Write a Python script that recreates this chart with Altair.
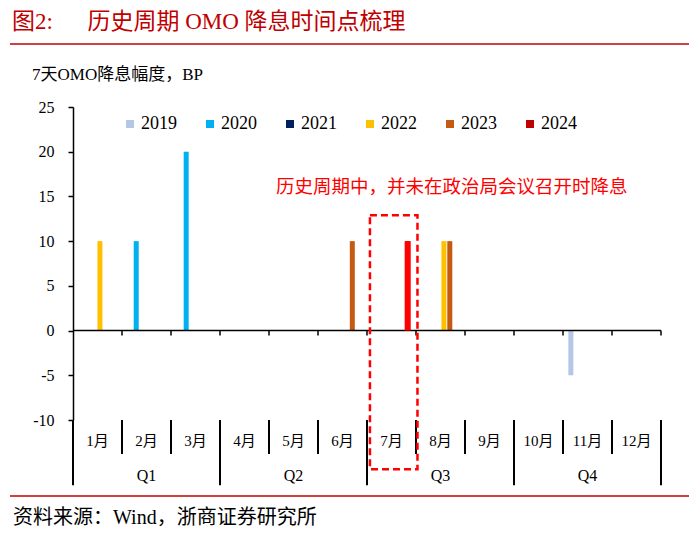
import altair as alt
import pandas as pd

# ---------------- data ----------------
years = ["2019", "2020", "2021", "2022", "2023", "2024"]
year_colors = ["#B4C7E7", "#00B0F0", "#002060", "#FFC000", "#C55A11", "#C00000"]

cut_year = ["2022", "2020", "2020", "2023", "2024", "2022", "2023", "2019"]
cut_pos = [0.55, 1.29, 2.31, 5.70, 6.83, 7.57, 7.69, 10.16]   # position in months (0..12)
cut_bp = [10, 10, 20, 10, 10, 10, 10, -5]

months = [f"{i}月" for i in range(1, 13)]
quarters = ["Q1", "Q2", "Q3", "Q4"]
y_ticks = [-10, -5, 0, 5, 10, 15, 20, 25]

title_text = "图2:\u3000\u00a0\u00a0历史周期 OMO 降息时间点梳理"
y_title = "7天OMO降息幅度，BP"
note_text = "历史周期中，并未在政治局会议召开时降息"
source_text = "资料来源：Wind，浙商证券研究所"

SERIF = "'Liberation Serif', 'Noto Sans CJK SC'"
CJK = "'Noto Sans CJK SC'"
RED = "#C00000"

# ---------------- tables ----------------
bars_df = pd.DataFrame({"year": cut_year, "pos": cut_pos, "bp": cut_bp})
month_df = pd.DataFrame({"label": months, "mid": [i + 0.5 for i in range(12)], "y": -12.4})
quarter_df = pd.DataFrame({"label": quarters, "mid": [1.5, 4.5, 7.5, 10.5], "y": -16.3})
msep_df = pd.DataFrame({"x": [1, 2, 4, 5, 7, 8, 10, 11], "y": -10, "y2": -13.8})
qsep_df = pd.DataFrame({"x": [0, 3, 6, 9, 12], "y": -10, "y2": -17.3})
zero_df = pd.DataFrame({"x": [0], "x2": [12], "y": [0]})
ztick_df = pd.DataFrame({"x": list(range(1, 13)), "y": 0, "y2": -0.56})
box_df = pd.DataFrame({"x": [6.06], "x2": [7.03], "y": [12.9], "y2": [-15.5]})
note_df = pd.DataFrame({"x": [7.73], "y": [16.1], "t": [note_text]})
one = pd.DataFrame({"a": [0]})

xs = alt.Scale(domain=[0, 12], nice=False, zero=False, padding=0)
ys = alt.Scale(domain=[-10, 25], nice=False, padding=0)
yaxis = alt.Axis(
    values=y_ticks, title=None, grid=False, labelExpr="datum.value + ''",
    domainColor="black", domainWidth=1.5,
    tickColor="black", tickSize=5, tickWidth=1.5,
    labelFont=SERIF, labelFontSize=16, labelColor="black", labelPadding=14)


def X(f):
    return alt.X(f, scale=xs, axis=None)


def Y(f):
    return alt.Y(f, scale=ys, axis=yaxis)


bars = alt.Chart(bars_df).mark_bar(size=5).encode(
    x=X("pos:Q"),
    y=Y("bp:Q"),
    color=alt.Color("year:N", scale=alt.Scale(domain=years, range=year_colors),
                    legend=alt.Legend(
                        title=None, orient="none", legendX=48, legendY=8,
                        direction="horizontal", symbolType="square", symbolSize=64,
                        symbolStrokeWidth=0, labelFont=SERIF, labelFontSize=18,
                        labelColor="black", labelOffset=2, columnPadding=24)),
)

hi = alt.Chart(bars_df).transform_filter(alt.datum.year == "2024").mark_bar(
    size=6, color="#FF0000").encode(x=X("pos:Q"), y=Y("bp:Q"))

zero_line = alt.Chart(zero_df).mark_rule(color="black", strokeWidth=1.5).encode(
    x=X("x:Q"), x2="x2:Q", y=Y("y:Q"))

zero_ticks = alt.Chart(ztick_df).mark_rule(color="black", strokeWidth=1.5).encode(
    x=X("x:Q"), y=Y("y:Q"), y2="y2:Q")

msep = alt.Chart(msep_df).mark_rule(color="black", strokeWidth=2).encode(
    x=X("x:Q"), y=Y("y:Q"), y2="y2:Q")

qsep = alt.Chart(qsep_df).mark_rule(color="black", strokeWidth=2).encode(
    x=X("x:Q"), y=Y("y:Q"), y2="y2:Q")

mlab = alt.Chart(month_df).mark_text(font=SERIF, fontSize=15, color="black").encode(
    x=X("mid:Q"), y=Y("y:Q"), text="label:N")

qlab = alt.Chart(quarter_df).mark_text(font=SERIF, fontSize=16, color="black").encode(
    x=X("mid:Q"), y=Y("y:Q"), text="label:N")

box = alt.Chart(box_df).mark_rect(fillOpacity=0, stroke="#FF0000", strokeWidth=2.5,
                                  strokeDash=[7, 4]).encode(
    x=X("x:Q"), x2="x2:Q", y=Y("y:Q"), y2="y2:Q")

note = alt.Chart(note_df).mark_text(font=CJK, fontSize=18.5, color="#FF0000").encode(
    x=X("x:Q"), y=Y("y:Q"), text="t:N")

title = alt.Chart(one).mark_text(font=SERIF, fontSize=23, color=RED, align="left",
                                 baseline="middle", text=title_text).encode(
    x=alt.value(-61), y=alt.value(-85))

top_line = alt.Chart(one).mark_rule(color=RED, strokeWidth=1.5).encode(
    x=alt.value(-63), x2=alt.value(616), y=alt.value(-63))

ytitle = alt.Chart(one).mark_text(font=SERIF, fontSize=17, color="black", align="left",
                                  baseline="middle", text=y_title).encode(
    x=alt.value(-41), y=alt.value(-32))

bottom_line = alt.Chart(one).mark_rule(color=RED, strokeWidth=1.5).encode(
    x=alt.value(-63), x2=alt.value(616), y=alt.value(389))

source = alt.Chart(one).mark_text(font=SERIF, fontSize=20, color="black", align="left",
                                  baseline="middle", text=source_text).encode(
    x=alt.value(-60), y=alt.value(411))

chart = alt.layer(
    bars, zero_line, zero_ticks, msep, qsep, mlab, qlab, hi, box, note,
    title, top_line, ytitle, bottom_line, source
).properties(
    width=588, height=313,
    autosize=alt.AutoSizeParams(type="none"),
    padding={"left": 65, "top": 99, "right": 31, "bottom": 113},
).configure_view(stroke=None)

chart.save("out.html", embed_options={"renderer": "svg", "actions": False})
